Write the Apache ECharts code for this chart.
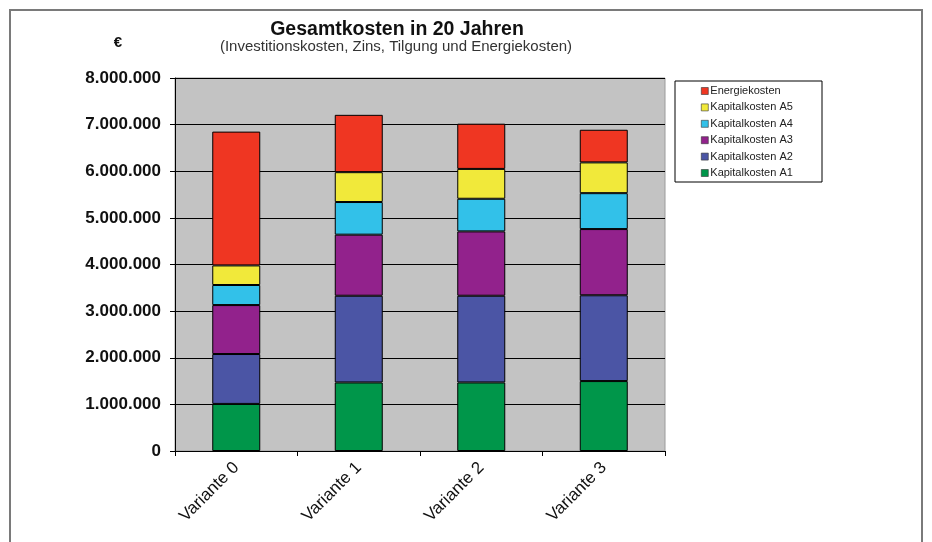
<!DOCTYPE html>
<html>
<head>
<meta charset="utf-8">
<script src="https://cdn.jsdelivr.net/npm/echarts@6/dist/echarts.min.js"></script>
<style>
  html, body { margin: 0; padding: 0; background: #fff; }
  #chart { width: 932px; height: 542px; }
</style>
</head>
<body>
<div id="chart"></div>
<script>
const categories = ['Variante 0', 'Variante 1', 'Variante 2', 'Variante 3'];
const kapitalA1 = [1010000, 1470000, 1470000, 1500000];
const kapitalA2 = [1070000, 1860000, 1860000, 1840000];
const kapitalA3 = [1050000, 1310000, 1380000, 1420000];
const kapitalA4 = [430000, 700000, 700000, 770000];
const kapitalA5 = [420000, 640000, 640000, 660000];
const energie = [2870000, 1230000, 970000, 700000];
const yTicks = [0, 1000000, 2000000, 3000000, 4000000, 5000000, 6000000, 7000000, 8000000];

const FONT = 'Arial, "Liberation Sans", sans-serif';
function fmt(v) {
  return String(v).replace(/\B(?=(\d{3})+(?!\d))/g, '.');
}

const seriesDefs = [
  { name: 'Kapitalkosten A1', data: kapitalA1, color: '#00964a' },
  { name: 'Kapitalkosten A2', data: kapitalA2, color: '#4b55a5' },
  { name: 'Kapitalkosten A3', data: kapitalA3, color: '#92228c' },
  { name: 'Kapitalkosten A4', data: kapitalA4, color: '#32c1e9' },
  { name: 'Kapitalkosten A5', data: kapitalA5, color: '#f1e93a' },
  { name: 'Energiekosten', data: energie, color: '#ef3622' }
];

const chart = echarts.init(document.getElementById('chart'), null, { renderer: 'canvas' });
chart.setOption({
  backgroundColor: '#ffffff',
  animation: false,
  textStyle: { fontFamily: FONT },
  grid: {
    left: 175, right: 267, top: 78, bottom: 91,
    show: true, backgroundColor: '#c3c3c3', borderColor: '#9a9a9a', borderWidth: 1
  },
  legend: {
    orient: 'vertical',
    left: 696, top: 80,
    itemWidth: 7, itemHeight: 7, itemGap: 4.4,
    icon: 'rect',
    data: ['Energiekosten', 'Kapitalkosten A5', 'Kapitalkosten A4', 'Kapitalkosten A3', 'Kapitalkosten A2', 'Kapitalkosten A1'],
    textStyle: { fontFamily: FONT, fontSize: 11, color: '#222', lineHeight: 12, padding: [0, 0, 0, -3] },
    itemStyle: { borderColor: '#333', borderWidth: 0.6 }
  },
  xAxis: {
    type: 'category',
    data: categories,
    axisLine: { lineStyle: { color: '#000', width: 1 } },
    axisTick: { show: true, length: 5, lineStyle: { color: '#000' } },
    axisLabel: { rotate: 45, margin: 14, fontFamily: FONT, fontSize: 17, color: '#111' },
    splitLine: { show: false }
  },
  yAxis: {
    type: 'value',
    min: yTicks[0], max: yTicks[yTicks.length - 1], interval: yTicks[1] - yTicks[0],
    axisLine: { show: true, lineStyle: { color: '#000', width: 1 } },
    axisTick: { show: true, length: 5, lineStyle: { color: '#000' } },
    axisLabel: { margin: 14, fontFamily: FONT, fontSize: 17, fontWeight: 'bold', color: '#111', formatter: fmt },
    splitLine: { show: true, lineStyle: { color: '#000', width: 1 } }
  },
  series: seriesDefs.map(s => ({
    name: s.name,
    type: 'bar',
    stack: 'total',
    barWidth: 48,
    data: s.data,
    itemStyle: { color: s.color, borderColor: '#000', borderWidth: 1 }
  })),
  graphic: [
    { type: 'rect', shape: { x: 10, y: 10, width: 912, height: 545 }, style: { fill: 'none', stroke: '#7a7a7a', lineWidth: 2 }, silent: true },
    { type: 'rect', shape: { x: 675, y: 81, width: 147, height: 101 }, style: { fill: 'none', stroke: '#000', lineWidth: 1 }, silent: true },
    { type: 'text', x: 397, y: 30, style: { text: 'Gesamtkosten in 20 Jahren', font: 'bold 19.5px ' + FONT, fill: '#111', textAlign: 'center', textVerticalAlign: 'middle' } },
    { type: 'text', x: 396, y: 47, style: { text: '(Investitionskosten, Zins, Tilgung und Energiekosten)', font: '15px ' + FONT, fill: '#333', textAlign: 'center', textVerticalAlign: 'middle' } },
    { type: 'text', x: 118, y: 43, style: { text: '€', font: 'bold 15px ' + FONT, fill: '#111', textAlign: 'center', textVerticalAlign: 'middle' } }
  ]
});
</script>
</body>
</html>
